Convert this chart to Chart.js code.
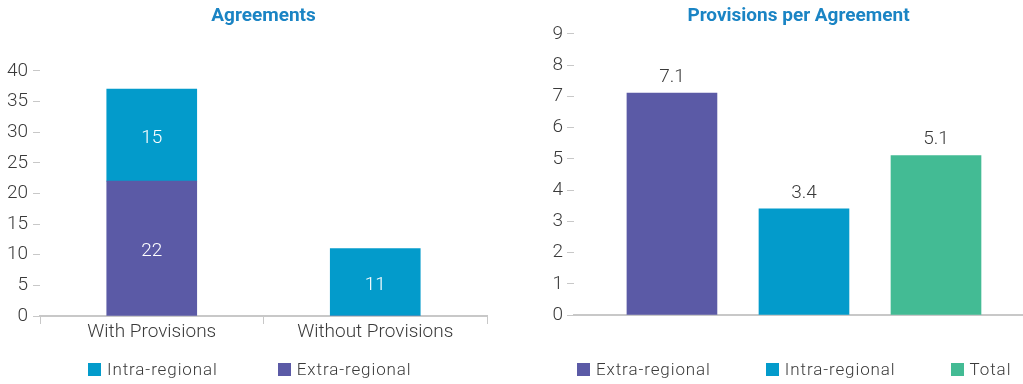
<!DOCTYPE html>
<html>
<head>
<meta charset="utf-8">
<script src="https://cdn.jsdelivr.net/npm/chart.js@4/dist/chart.umd.min.js"></script>
<style>
  html, body { margin: 0; padding: 0; background: #fff; }
  body { width: 1023px; height: 384px; position: relative; overflow: hidden; font-family: Roboto, "Open Sans", sans-serif; }
  .panel { position: absolute; top: 0; height: 384px; }
  #left { left: 0; width: 520px; }
  #right { left: 520px; width: 503px; }
  canvas { display: block; }
  .legend { position: absolute; top: 359px; display: flex; align-items: center; font-size: 17px; font-weight: 300; letter-spacing: 0.9px; color: #3a3a3a; white-space: nowrap; line-height: 20px; }
  .legend .item { display: flex; align-items: center; }
  .legend .sw { width: 13px; height: 13px; margin-right: 6px; flex: none; }
</style>
</head>
<body>
<div class="panel" id="left">
  <canvas id="agreements" width="520" height="384"></canvas>
  <div class="legend" id="legendLeft" style="left:88px; gap:60px"></div>
</div>
<div class="panel" id="right">
  <canvas id="perAgreement" width="503" height="384"></canvas>
  <div class="legend" id="legendRight" style="left:57px; gap:55px"></div>
</div>
<script>
// Agreements, split by whether they contain provisions
const groups = ['With Provisions', 'Without Provisions'];
const extraRegional = [22, 0];
const intraRegional = [15, 11];

// Average number of provisions per agreement
const provisionCategories = ['Extra-regional', 'Intra-regional', 'Total'];
const provisionsPerAgreement = [7.1, 3.4, 5.1];

const PURPLE = '#5b5aa6';
const CYAN = '#039bcb';
const GREEN = '#43bb94';
const TITLE_BLUE = '#1a84c4';
const TEXT = '#3a3a3a';
const AXIS = '#c8c8c8';
const FONT = 'Roboto, "Open Sans", sans-serif';
const provisionColors = [PURPLE, CYAN, GREEN];

// Writes each bar's value on or above it
const valueLabels = {
  id: 'valueLabels',
  afterDatasetsDraw(chart, args, opts) {
    const ctx = chart.ctx;
    ctx.save();
    ctx.font = '300 19px ' + FONT;
    ctx.fillStyle = opts.color;
    ctx.textAlign = 'center';
    ctx.textBaseline = 'middle';
    chart.data.datasets.forEach((ds, i) => {
      const meta = chart.getDatasetMeta(i);
      meta.data.forEach((bar, j) => {
        const raw = ds.data[j];
        const v = (raw !== null && typeof raw === 'object') ? raw.y : raw;
        if (!v) return;
        const y = opts.inside ? (bar.y + bar.base) / 2 + 3 : bar.y - 16;
        ctx.fillText(opts.format(v), bar.x, y);
      });
    });
    ctx.restore();
  }
};

function buildLegend(id, items) {
  const el = document.getElementById(id);
  items.forEach(it => {
    const d = document.createElement('div');
    d.className = 'item';
    const sw = document.createElement('span');
    sw.className = 'sw';
    sw.style.background = it.color;
    const t = document.createElement('span');
    t.textContent = it.label;
    d.appendChild(sw);
    d.appendChild(t);
    el.appendChild(d);
  });
}

const tickFont = { family: FONT, size: 19, weight: '300' };
const titleFont = { family: FONT, size: 19, weight: 'bold' };

new Chart(document.getElementById('agreements'), {
  type: 'bar',
  data: {
    labels: groups,
    datasets: [
      { label: 'Extra-regional', data: extraRegional, backgroundColor: PURPLE, barThickness: 90 },
      { label: 'Intra-regional', data: intraRegional, backgroundColor: CYAN, barThickness: 90 }
    ]
  },
  options: {
    responsive: false,
    animation: false,
    layout: { padding: { left: 0, right: 33, top: 0, bottom: 40 } },
    plugins: {
      legend: { display: false },
      tooltip: { enabled: false },
      title: { display: true, text: 'Agreements', color: TITLE_BLUE, font: titleFont, fullSize: false, padding: { top: 5, bottom: 43 } },
      valueLabels: { inside: true, color: '#ffffff', format: v => String(v) }
    },
    scales: {
      x: {
        stacked: true,
        grid: { display: true, drawOnChartArea: false, drawTicks: true, tickLength: 8, color: AXIS, offset: true },
        border: { display: true, color: AXIS, width: 2 },
        ticks: { color: TEXT, font: tickFont, padding: -3, maxRotation: 0 },
        afterFit: s => { s.height = 28; }
      },
      y: {
        stacked: true,
        min: 0, max: 40,
        ticks: { stepSize: 5, color: TEXT, font: tickFont, padding: 5 },
        grid: { drawOnChartArea: false, drawTicks: true, tickLength: 7, color: AXIS },
        border: { display: false },
        afterFit: s => { s.width = 40; }
      }
    }
  },
  plugins: [valueLabels]
});

new Chart(document.getElementById('perAgreement'), {
  type: 'bar',
  data: {
    datasets: [{
      label: 'Provisions per Agreement',
      data: provisionCategories.map((c, i) => ({ x: i, y: provisionsPerAgreement[i] })),
      backgroundColor: provisionColors,
      barThickness: 90
    }]
  },
  options: {
    responsive: false,
    animation: false,
    layout: { padding: { left: 0, right: 0, top: 0, bottom: 41 } },
    plugins: {
      legend: { display: false },
      tooltip: { enabled: false },
      title: { display: true, text: 'Provisions per Agreement', color: TITLE_BLUE, font: titleFont, fullSize: false, padding: { top: 5, bottom: 6 } },
      valueLabels: { inside: false, color: TEXT, format: v => v.toFixed(1) }
    },
    scales: {
      x: {
        type: 'linear',
        offset: false,
        bounds: 'data',
        min: -0.742, max: 2.659,
        ticks: { display: false },
        grid: { display: false, offset: false },
        border: { display: true, color: AXIS, width: 2 },
        afterFit: s => { s.height = 28; }
      },
      y: {
        min: 0, max: 9,
        ticks: { stepSize: 1, color: TEXT, font: tickFont, padding: 4 },
        grid: { drawOnChartArea: false, drawTicks: true, tickLength: 7, color: AXIS },
        border: { display: false },
        afterFit: s => { s.width = 54; }
      }
    }
  },
  plugins: [valueLabels]
});

buildLegend('legendLeft', [
  { label: 'Intra-regional', color: CYAN },
  { label: 'Extra-regional', color: PURPLE }
]);
buildLegend('legendRight', provisionCategories.map((c, i) => ({ label: c, color: provisionColors[i] })));
</script>
</body>
</html>
